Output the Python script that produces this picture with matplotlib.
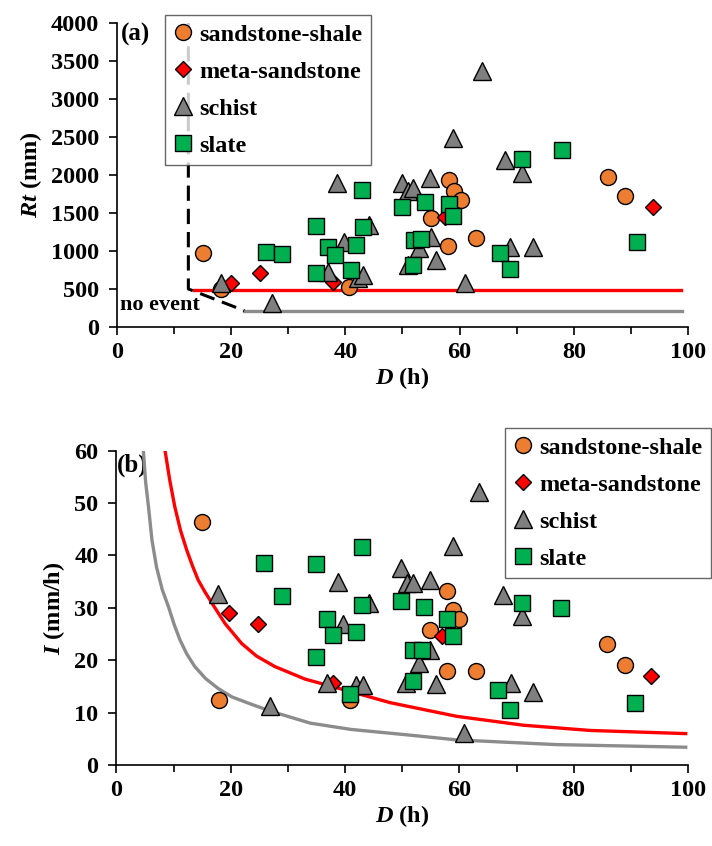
import matplotlib
matplotlib.use("Agg")
import matplotlib.pyplot as plt
from matplotlib.ticker import MultipleLocator

plt.rcParams['font.family'] = ['Liberation Serif', 'DejaVu Serif']
plt.rcParams['font.weight'] = 'bold'
plt.rcParams['mathtext.fontset'] = 'custom'
plt.rcParams['mathtext.it'] = 'Liberation Serif:italic:bold'
plt.rcParams['mathtext.rm'] = 'Liberation Serif:bold'

# ---- panel (a): cumulative rainfall Rt vs duration D ----
ss_D_a = [15.1, 18.2, 40.7, 55.0, 58.1, 59.0, 60.3, 57.9, 62.9, 86.0, 89.0]
ss_Rt = [979, 500, 531, 1432, 1937, 1783, 1673, 1067, 1169, 1980, 1726]

ms_D_a = [20.0, 25.0, 37.9, 57.4, 93.9]
ms_Rt = [575, 707, 597, 1445, 1577]

sc_D_a = [18.2, 27.1, 36.9, 38.6, 39.8, 42.2, 43.0, 44.2, 49.9, 50.9, 51.9, 54.8,
          51.0, 52.9, 55.0, 55.9, 58.8, 60.9, 63.9, 67.9, 68.9, 70.9, 72.9]
sc_Rt = [575, 312, 729, 1901, 1120, 641, 685, 1344, 1893, 1783, 1827, 1959,
         817, 1037, 1190, 883, 2486, 576, 3364, 2200, 1058, 2025, 1058]

sl_D_a = [26.1, 28.9, 34.9, 34.9, 36.9, 38.1, 41.0, 41.9, 42.9, 43.0, 50.0,
          54.0, 58.1, 58.9, 52.1, 53.3, 51.9, 67.0, 68.9, 71.0, 78.0, 91.0]
sl_Rt = [992, 962, 1331, 716, 1050, 949, 751, 1080, 1805, 1322, 1585,
         1643, 1620, 1462, 1140, 1160, 817, 971, 768, 2209, 2332, 1116]

red_Rt_level, red_D_range = 490, [13.5, 98.8]
gray_Rt_level, gray_D_range = 211, [22.3, 99.0]
dash_D = [12.5, 12.5, 22.3]
dash_Rt = [4000, 500, 215]

# ---- panel (b): mean intensity I vs duration D ----
ss_D_b = [15.0, 17.9, 40.9, 54.9, 57.8, 58.9, 60.0, 57.8, 62.9, 85.8, 88.9]
ss_I = [46.3, 12.5, 12.4, 25.8, 33.2, 29.6, 27.8, 18.0, 18.0, 23.1, 19.1]

ms_D_b = [19.7, 24.8, 37.9, 56.9, 93.6]
ms_I = [29.0, 27.0, 15.6, 24.6, 17.0]

sc_D_b = [17.7, 26.9, 36.9, 38.8, 39.7, 41.9, 43.1, 44.1, 49.7, 50.9, 51.9, 54.9,
          50.7, 53.0, 54.9, 55.9, 58.8, 60.8, 63.5, 67.7, 69.0, 70.9, 72.8]
sc_I = [32.6, 11.3, 15.7, 34.9, 27.0, 15.3, 15.3, 31.0, 37.7, 34.7, 34.7, 35.4,
        15.6, 19.5, 21.9, 15.4, 41.8, 6.2, 52.2, 32.4, 15.6, 28.5, 14.0]

sl_D_b = [25.8, 29.0, 34.9, 34.9, 36.9, 37.8, 40.9, 41.9, 43.0, 43.0, 49.8,
          53.8, 57.8, 58.8, 51.8, 53.4, 51.8, 66.8, 68.9, 70.9, 77.7, 90.8]
sl_I = [38.6, 32.3, 38.3, 20.6, 27.9, 24.8, 13.5, 25.3, 41.7, 30.5, 31.4,
        30.2, 27.8, 24.6, 21.9, 21.9, 16.1, 14.4, 10.5, 31.0, 30.0, 11.8]

# threshold curves
red_D = [8.5, 9.3, 10.2, 11.2, 12.3, 13.3, 14.3, 15.5, 16.7, 19.0, 21.9, 24.5,
         27.7, 33.0, 39.7, 47.9, 59.5, 71.2, 82.9, 99.6]
red_I = [60.0, 54.5, 49.3, 44.8, 41.0, 38.0, 35.3, 33.0, 30.9, 27.0, 23.2, 20.8,
         18.8, 16.4, 14.4, 11.9, 9.3, 7.6, 6.6, 6.0]
gray_D = [4.7, 5.1, 5.6, 6.2, 7.0, 8.0, 9.1, 10.1, 11.1, 12.3, 13.7, 15.6,
          17.8, 20.2, 23.1, 26.9, 33.9, 41.0, 51.4, 59.5, 77.0, 99.6]
gray_I = [60.0, 54.0, 49.3, 43.0, 37.8, 33.5, 30.2, 26.8, 23.9, 21.2, 18.8, 16.5,
          14.6, 13.0, 11.8, 10.3, 8.0, 6.8, 5.7, 4.8, 3.9, 3.4]

labels = ['sandstone-shale', 'meta-sandstone', 'schist', 'slate']
ORANGE = '#ED7D31'
RED = '#FF0000'
GRAY = '#7F7F7F'
GREEN = '#00B050'
LINE_GRAY = '#8C8C8C'

fig = plt.figure(figsize=(7.12, 8.46), dpi=100)
ax1 = fig.add_axes([0.1643, 0.6135, 0.8020, 0.3593])
ax2 = fig.add_axes([0.1636, 0.0957, 0.8027, 0.3716])


def scatter_groups(ax, groups):
    styles = [('o', 11.5, ORANGE), ('D', 8.5, RED), ('^', 13, GRAY), ('s', 11.5, GREEN)]
    for (x, y), (m, ms, c), lab in zip(groups, styles, labels):
        ax.plot(x, y, ls='none', marker=m, ms=ms, mfc=c, mec='black', mew=1.0,
                label=lab, zorder=3)


def style_axes(ax, ymax, ystep):
    for s in ['top', 'right']:
        ax.spines[s].set_visible(False)
    for s in ['left', 'bottom']:
        ax.spines[s].set_linewidth(1.2)
    ax.set_xlim(0, 100)
    ax.set_ylim(0, ymax)
    ax.xaxis.set_major_locator(MultipleLocator(20))
    ax.xaxis.set_minor_locator(MultipleLocator(10))
    ax.yaxis.set_major_locator(MultipleLocator(ystep))
    ax.tick_params(axis='both', which='both', direction='out', length=6,
                   width=1.2, labelsize=17.5, pad=5)
    ax.tick_params(axis='y', pad=7)
    ax.tick_params(axis='x', which='minor', length=5)
    for t in ax.get_xticklabels() + ax.get_yticklabels():
        t.set_fontweight('bold')
    ax.set_xlabel('$D$ (h)', fontsize=17.5, fontweight='bold', labelpad=1)


def add_legend(ax, anchor):
    leg = ax.legend(loc='upper left', bbox_to_anchor=anchor, borderaxespad=0,
                    frameon=True, fancybox=False, edgecolor='#404040',
                    prop={'family': 'Liberation Serif', 'weight': 'bold', 'size': 17.5},
                    handlelength=0.8, handletextpad=0.25, labelspacing=0.62,
                    borderpad=0.35, numpoints=1)
    leg.get_frame().set_linewidth(1.0)
    leg.set_zorder(10)
    return leg


# ---- (a) ----
ax1.plot(red_D_range, [red_Rt_level] * 2, color=RED, lw=2.4, zorder=2)
ax1.plot(gray_D_range, [gray_Rt_level] * 2, color=LINE_GRAY, lw=2.4, zorder=2)
ax1.plot(dash_D, dash_Rt, color='black', lw=2.2, dashes=(5, 2.6), zorder=2)
scatter_groups(ax1, [(ss_D_a, ss_Rt), (ms_D_a, ms_Rt), (sc_D_a, sc_Rt), (sl_D_a, sl_Rt)])
style_axes(ax1, 4000, 500)
ax1.set_ylabel('$Rt$ (mm)', fontsize=17.5, fontweight='bold', labelpad=5)
ax1.text(0.006, 0.962, '(a)', transform=ax1.transAxes, fontsize=18,
         fontweight='bold', va='center', ha='left')
ax1.text(0.6, 290, 'no event', fontsize=16, fontweight='bold', va='center', ha='left')
add_legend(ax1, (0.084, 1.026))

# ---- (b) ----
ax2.plot(red_D, red_I, color=RED, lw=2.4, zorder=2)
ax2.plot(gray_D, gray_I, color=LINE_GRAY, lw=2.4, zorder=2)
scatter_groups(ax2, [(ss_D_b, ss_I), (ms_D_b, ms_I), (sc_D_b, sc_I), (sl_D_b, sl_I)])
style_axes(ax2, 60, 10)
ax2.set_ylabel('$I$ (mm/h)', fontsize=17.5, fontweight='bold', labelpad=5)
ax2.text(0.0, 0.955, '(b)', transform=ax2.transAxes, fontsize=18,
         fontweight='bold', va='center', ha='left', zorder=1)
add_legend(ax2, (0.68, 1.072))

fig.savefig('out.png', dpi=100)
